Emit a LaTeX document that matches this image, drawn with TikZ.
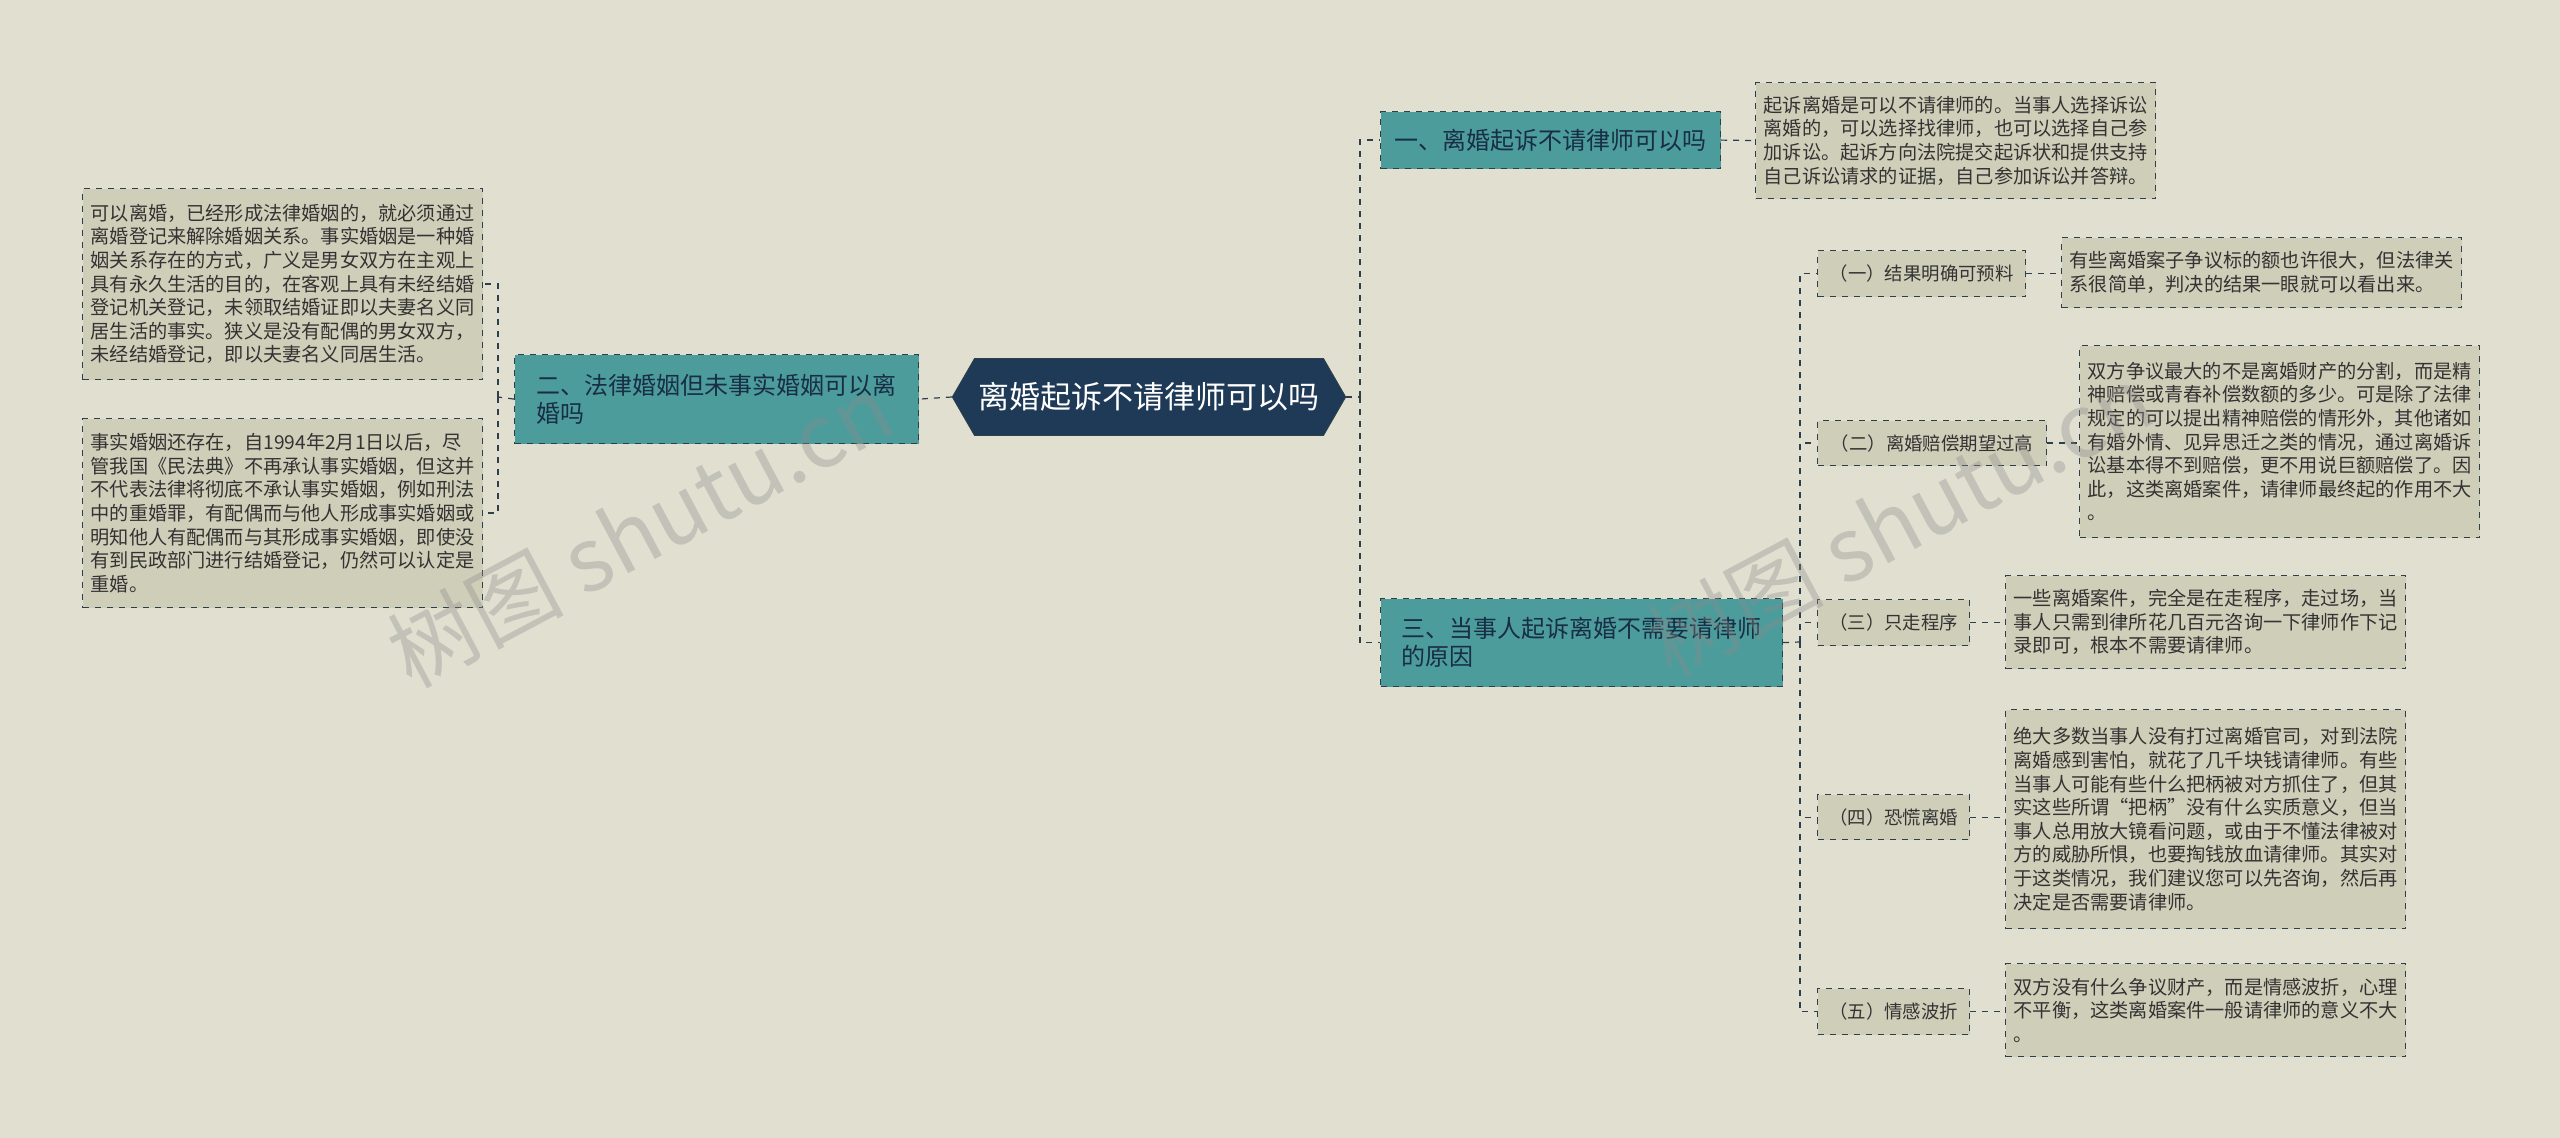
\documentclass[tikz,border=0pt]{standalone}
\usepackage{fontspec}
\setmainfont{Noto Sans CJK SC}
\usetikzlibrary{shapes.symbols}
\definecolor{bg}{HTML}{E0DFD0}
\definecolor{leaf}{HTML}{CFCEB9}
\definecolor{teal}{HTML}{4D9C9C}
\definecolor{navy}{HTML}{1E3A56}
\definecolor{ln}{HTML}{2E3F4C}
\definecolor{tx}{HTML}{333333}
\tikzset{
 leafbox/.style={draw=ln,dashed,fill=leaf,line width=0.6pt,align=left,text=tx,font=\fontsize{9.6}{11.8}\selectfont,inner sep=4pt,anchor=north west},
 subbox/.style={draw=ln,dashed,fill=leaf,line width=0.6pt,text=tx,font=\fontsize{9.2}{12}\selectfont,inner sep=2pt,anchor=north west},
 brbox/.style={draw=ln,dashed,fill=teal,line width=0.6pt,text=navy!80!black,align=left,font=\fontsize{12}{14}\selectfont,inner sep=3pt,anchor=north west},
 conn/.style={draw=ln,dashed,line width=0.6pt},
 wm/.style={text=black!45,opacity=0.35,font=\fontsize{44}{44}\selectfont,rotate=28}
}
\begin{document}
\begin{tikzpicture}[x=0.5pt,y=-0.5pt]
\fill[bg] (0,0) rectangle (2560,1138);
\useasboundingbox (0,0) rectangle (2560,1138);
% centre
\node[signal,signal to=east and west,signal pointer angle=120,fill=navy,draw=ln,text=white,font=\fontsize{15.5}{18}\selectfont,minimum width=190pt,minimum height=38.5pt,inner sep=2pt] (c) at (1149,397) {离婚起诉不请律师可以吗};
% left branch
\node[brbox,minimum width=202pt,minimum height=44.5pt] (L) at (514,354) {二、法律婚姻但未事实婚姻可以离\\婚吗};
\node[leafbox,minimum width=199pt,minimum height=95.5pt] (L1) at (82,188) {可以离婚，已经形成法律婚姻的，就必须通过\\离婚登记来解除婚姻关系。事实婚姻是一种婚\\姻关系存在的方式，广义是男女双方在主观上\\具有永久生活的目的，在客观上具有未经结婚\\登记机关登记，未领取结婚证即以夫妻名义同\\居生活的事实。狭义是没有配偶的男女双方，\\未经结婚登记，即以夫妻名义同居生活。};
\node[leafbox,minimum width=199pt,minimum height=94.5pt] (L2) at (82,418) {事实婚姻还存在，自1994年2月1日以后，尽\\管我国《民法典》不再承认事实婚姻，但这并\\不代表法律将彻底不承认事实婚姻，例如刑法\\中的重婚罪，有配偶而与他人形成事实婚姻或\\明知他人有配偶而与其形成事实婚姻，即使没\\有到民政部门进行结婚登记，仍然可以认定是\\重婚。};
% right branches
\node[brbox,minimum width=170pt,minimum height=28.5pt] (R1) at (1380,111) {一、离婚起诉不请律师可以吗};
\node[leafbox,minimum width=200pt,minimum height=58pt] (R1a) at (1755,82) {起诉离婚是可以不请律师的。当事人选择诉讼\\离婚的，可以选择找律师，也可以选择自己参\\加诉讼。起诉方向法院提交起诉状和提供支持\\自己诉讼请求的证据，自己参加诉讼并答辩。};
\node[brbox,minimum width=201pt,minimum height=44pt] (R2) at (1380,598) {三、当事人起诉离婚不需要请律师\\的原因};
\node[subbox,minimum width=104pt,minimum height=23pt] (S1) at (1817,250) {（一）结果明确可预料};
\node[subbox,minimum width=114.5pt,minimum height=22.5pt] (S2) at (1817,420) {（二）离婚赔偿期望过高};
\node[subbox,minimum width=76pt,minimum height=23pt] (S3) at (1817,599) {（三）只走程序};
\node[subbox,minimum width=76pt,minimum height=22.5pt] (S4) at (1817,794) {（四）恐慌离婚};
\node[subbox,minimum width=76pt,minimum height=23pt] (S5) at (1817,988) {（五）情感波折};
\node[leafbox,minimum width=200pt,minimum height=35pt] (T1) at (2061,237) {有些离婚案子争议标的额也许很大，但法律关\\系很简单，判决的结果一眼就可以看出来。};
\node[leafbox,minimum width=200pt,minimum height=96pt] (T2) at (2079,345) {双方争议最大的不是离婚财产的分割，而是精\\神赔偿或青春补偿数额的多少。可是除了法律\\规定的可以提出精神赔偿的情形外，其他诸如\\有婚外情、见异思迁之类的情况，通过离婚诉\\讼基本得不到赔偿，更不用说巨额赔偿了。因\\此，这类离婚案件，请律师最终起的作用不大\\。};
\node[leafbox,minimum width=199.5pt,minimum height=46.5pt] (T3) at (2005,575) {一些离婚案件，完全是在走程序，走过场，当\\事人只需到律所花几百元咨询一下律师作下记\\录即可，根本不需要请律师。};
\node[leafbox,minimum width=199.5pt,minimum height=109.5pt] (T4) at (2005,709) {绝大多数当事人没有打过离婚官司，对到法院\\离婚感到害怕，就花了几千块钱请律师。有些\\当事人可能有些什么把柄被对方抓住了，但其\\实这些所谓“把柄”没有什么实质意义，但当\\事人总用放大镜看问题，或由于不懂法律被对\\方的威胁所惧，也要掏钱放血请律师。其实对\\于这类情况，我们建议您可以先咨询，然后再\\决定是否需要请律师。};
\node[leafbox,minimum width=199.5pt,minimum height=46.5pt] (T5) at (2005,963) {双方没有什么争议财产，而是情感波折，心理\\不平衡，这类离婚案件一般请律师的意义不大\\。};
% connectors
\coordinate (rj) at (1360,397);
\coordinate (lj) at (498,397);
\coordinate (sj) at (1800,642);
\draw[conn] (c.east) -- (rj);
\draw[conn] (rj) |- (R1.west);
\draw[conn] (rj) |- (R2.west);
\draw[conn] (c.west) -- (L.east);
\draw[conn] (L.west) -- (lj);
\draw[conn] (lj) |- (L1.east);
\draw[conn] (lj) |- (L2.east);
\draw[conn] (R1.east) -- (R1a.west);
\draw[conn] (R2.east) -- (sj);
\foreach \s in {S1,S2,S3,S4,S5}{\draw[conn] (sj) |- (\s.west);}
\draw[conn] (S1.east) -- (S1.east -| T1.west);
\draw[conn] (S2.east) -- (S2.east -| T2.west);
\draw[conn] (S3.east) -- (S3.east -| T3.west);
\draw[conn] (S4.east) -- (S4.east -| T4.west);
\draw[conn] (S5.east) -- (S5.east -| T5.west);
% watermarks
\node[wm] (w1) at (640,530) {树图 shutu.cn};
\node[wm] (w2) at (1900,520) {树图 shutu.cn};
\end{tikzpicture}
\end{document}
